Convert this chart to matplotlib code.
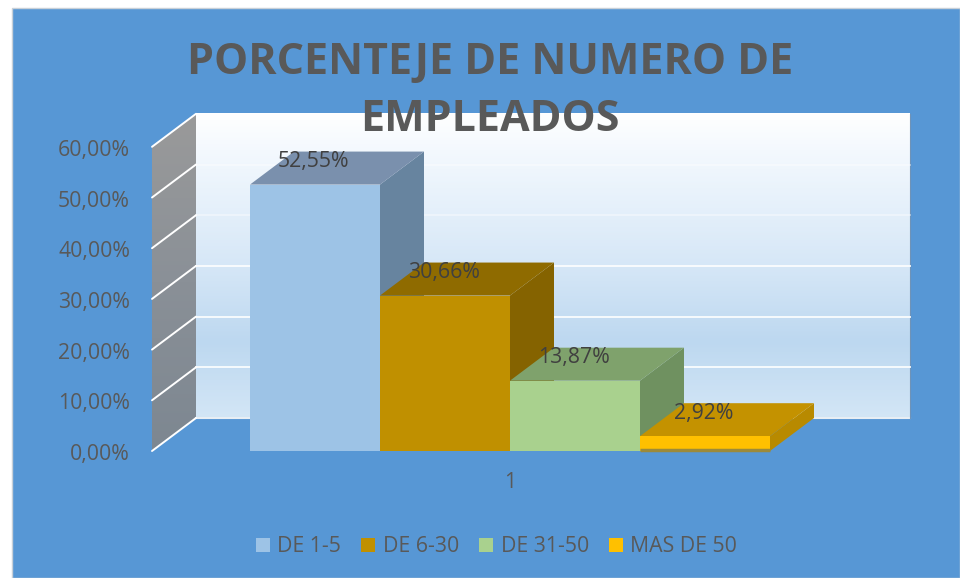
import numpy as np
import matplotlib
matplotlib.use("Agg")
import matplotlib.pyplot as plt
from matplotlib.colors import LinearSegmentedColormap
from matplotlib.patches import Patch, Polygon, Rectangle

categories = ["DE 1-5", "DE 6-30", "DE 31-50", "MAS DE 50"]
values = [52.55, 30.66, 13.87, 2.92]
value_labels = ["52,55%", "30,66%", "13,87%", "2,92%"]
y_ticks = [0, 10, 20, 30, 40, 50, 60]
y_tick_labels = ["0,00%", "10,00%", "20,00%", "30,00%", "40,00%", "50,00%", "60,00%"]
x_label = "1"
title = "PORCENTEJE DE NUMERO DE\nEMPLEADOS"

front_colors = ["#9DC3E6", "#C09000", "#A9D18E", "#FFC000"]
top_colors = ["#7A90AD", "#8F6B00", "#7FA26C", "#C49200"]
side_colors = ["#67849F", "#856300", "#6F9160", "#B88A00"]

TEXT = "#595959"
LABEL = "#404040"
BLUE = "#5797D5"

plt.rcParams["font.family"] = ["Open Sans", "DejaVu Sans"]

fig = plt.figure(figsize=(9.6, 5.78), dpi=100, facecolor="white")

# background of the chart, in figure fractions
fig.patches.append(Rectangle((12 / 960, 0), 948 / 960, 570 / 578, transform=fig.transFigure,
                             facecolor=BLUE, edgecolor="#C8D0D8", linewidth=1, zorder=-1))

# axes fill the figure: one bar is 1 x unit, 130 px; 1 % is 5.07 px
ax = fig.add_axes([0, 0, 1, 1])
ax.patch.set_alpha(0)
ax.axis("off")

# 3d depth
dx = 44 / 130
dy = 33 / 5.07

x0 = -98 / 130  # left end of the floor, front
x1 = x0 + dx
x2 = (910 - 250) / 130
y_top = y_ticks[-1]

# back wall
wall_cmap = LinearSegmentedColormap.from_list(
    "wall", [(0, "#FFFFFF"), (0.12, "#F4F9FE"), (0.5, "#D6E7F7"), (0.75, "#BDD8F0"), (1, "#D3E6F6")])
ax.imshow(np.linspace(0, 1, 256).reshape(-1, 1), cmap=wall_cmap, aspect="auto", zorder=1,
          extent=[x1, x2, 0 + dy, y_top + dy], origin="upper")
ax.plot([x1, x2], [dy, dy], color="#E8EEF4", lw=1.5, zorder=1.1)
ax.plot([x2, x2], [dy, y_top + dy], color="#6F93B8", lw=0.8, zorder=1.1)

# side wall
side_cmap = LinearSegmentedColormap.from_list("side", ["#9A9A9A", "#8A9097", "#7D8791"])
side_im = ax.imshow(np.linspace(0, 1, 256).reshape(-1, 1), cmap=side_cmap, aspect="auto", zorder=1,
                    extent=[x0, x1, 0, y_top + dy], origin="upper")
side_im.set_clip_path(Polygon([(x0, 0), (x1, dy), (x1, y_top + dy), (x0, y_top)],
                              transform=ax.transData))

# gridlines on both walls
for t in y_ticks:
    ax.plot([x0, x1], [t, t + dy], color="white", lw=1.4, zorder=1.2, solid_capstyle="round")
    if 0 < t < y_top:
        ax.plot([x1, x2], [t + dy, t + dy], color="white", lw=1.4,
                alpha=0.85 if t < 40 else 0.4, zorder=1.2)

# bars, left to right so each one hides the side of the one before
for i, v in enumerate(values):
    z = 2 + i
    ax.add_patch(Polygon([(i + 1, 0), (i + 1 + dx, dy), (i + 1 + dx, v + dy), (i + 1, v)],
                         facecolor=side_colors[i], edgecolor="none", zorder=z))
    ax.add_patch(Polygon([(i, v), (i + dx, v + dy), (i + 1 + dx, v + dy), (i + 1, v)],
                         facecolor=top_colors[i], edgecolor="none", zorder=z))
    ax.bar(i, v, width=1, align="edge", color=front_colors[i], zorder=z + 0.1)

# dark foot on the low bar
last = len(values) - 1
ax.plot([last, last + 1], [0.25, 0.25], color="#9C8A3A", lw=2.5, zorder=last + 3, solid_capstyle="butt")

# data labels
for i, v in enumerate(values):
    ax.text(i + 0.49, v + 4.55, value_labels[i], ha="center", va="center",
            fontsize=15.3, color=LABEL, zorder=10)

# tick labels
for t, lab in zip(y_ticks, y_tick_labels):
    ax.text(-120 / 130, t - 0.7, lab, ha="right", va="center", fontsize=15.3, color=TEXT, zorder=10)
ax.text(2, -6.2, x_label, ha="center", va="center", fontsize=15.3, color=TEXT, zorder=10)

ax.set_xlim(-250 / 130, 710 / 130)
ax.set_ylim(-127 / 5.07, 451 / 5.07)

# title
fig.text(490 / 960, 1 - 91 / 578, title, ha="center", va="center", fontsize=31, fontweight="bold",
         color=TEXT, linespacing=1.45, zorder=20)

# legend
handles = [Patch(facecolor=c, edgecolor="none") for c in front_colors]
fig.legend(handles, categories, ncol=4, loc="center", bbox_to_anchor=(496.5 / 960, 1 - 547 / 578),
           frameon=False, fontsize=15.3, labelcolor=TEXT, handlelength=0.66, handleheight=0.66,
           handletextpad=0.35, columnspacing=0.95, borderpad=0)

fig.savefig("out.png", dpi=100)
